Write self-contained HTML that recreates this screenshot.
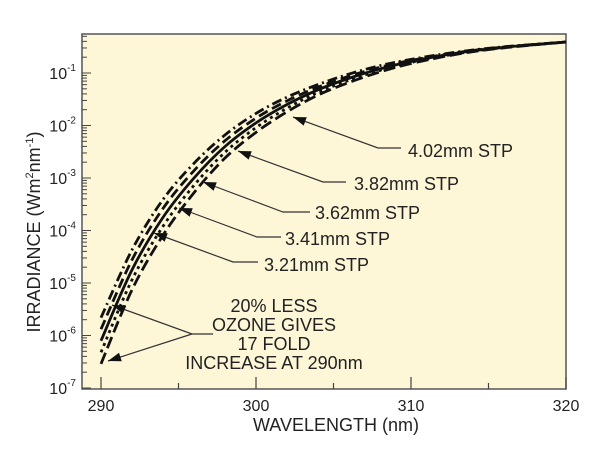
<!DOCTYPE html>
<html><head><meta charset="utf-8"><style>
html,body{margin:0;padding:0;background:#fff;}
svg{display:block;font-family:"Liberation Sans",sans-serif;}
</style></head><body>
<svg id="chart" width="600" height="459" viewBox="0 0 600 459">
<rect x="82" y="34" width="484" height="355" fill="#fdf7d8" stroke="#555" stroke-width="1.5"/>
<g id="ticks"></g>
<g id="curves"></g>
<g id="ann" stroke="#333" stroke-width="1.2" fill="none"></g>
<text x="336" y="431" font-size="18" text-anchor="middle" fill="#222">WAVELENGTH (nm)</text>
<text transform="translate(40,232) rotate(-90)" font-size="18" text-anchor="middle" fill="#222">IRRADIANCE (Wm<tspan font-size="11" dy="-7">2</tspan><tspan dy="7">nm</tspan><tspan font-size="11" dy="-7">-1</tspan><tspan dy="7">)</tspan></text>
<g font-size="18" fill="#222">
<text x="408" y="157">4.02mm STP</text>
<text x="354" y="190">3.82mm STP</text>
<text x="315" y="219">3.62mm STP</text>
<text x="285" y="245">3.41mm STP</text>
<text x="264" y="271">3.21mm STP</text>
<g text-anchor="middle">
<text x="274" y="312">20%  LESS</text>
<text x="274" y="331">OZONE GIVES</text>
<text x="274" y="350">17 FOLD</text>
<text x="274" y="369">INCREASE AT 290nm</text>
</g></g>
</svg>
<script>
const wavelengths=[290,292,294,296,298,300,302,304,306,308,310,313,316,320];
const s321=[-5.66,-4.37,-3.41,-2.72,-2.18,-1.77,-1.46,-1.22,-1.02,-0.86,-0.74,-0.60,-0.50,-0.41];
const s341=[-5.88,-4.56,-3.58,-2.86,-2.29,-1.86,-1.53,-1.27,-1.06,-0.89,-0.76,-0.61,-0.505,-0.41];
const s362=[-6.1,-4.75,-3.75,-3.0,-2.4,-1.95,-1.6,-1.32,-1.1,-0.92,-0.78,-0.62,-0.51,-0.41];
const s382=[-6.32,-4.94,-3.92,-3.14,-2.51,-2.04,-1.67,-1.37,-1.14,-0.95,-0.80,-0.63,-0.515,-0.41];
const s402=[-6.54,-5.13,-4.09,-3.28,-2.62,-2.13,-1.74,-1.42,-1.18,-0.98,-0.82,-0.64,-0.52,-0.41];
const xTicks=[290,300,310,320];
const yExps=[-1,-2,-3,-4,-5,-6,-7];
const NS="http://www.w3.org/2000/svg";
function X(w){return 101+(w-290)*15.5;}
function Y(l){return 73+(-1-l)*52.5;}
function mk(t,a,p){const e=document.createElementNS(NS,t);for(const k in a)e.setAttribute(k,a[k]);p.appendChild(e);return e;}
const tk=document.getElementById('ticks');
for(let w=290;w<=320;w+=5){const big=w%10===0;
 const t=mk('line',{x1:X(w),x2:X(w),y1:389,y2:389-(big?12:6),stroke:'#444','stroke-width':1.2},tk);
 }
xTicks.forEach(w=>{const t=mk('text',{x:X(w),y:411,'font-size':16,'text-anchor':'middle',fill:'#222'},tk);t.textContent=w;
 });
for(let e=-7;e<0;e++){for(let m=1;m<10;m++){const y=Y(e+Math.log10(m));if(y<34)continue;
 const l=mk('line',{x1:82,x2:82+(m===1?9:5),y1:y,y2:y,stroke:'#444','stroke-width':1},tk);
 }}
yExps.forEach(e=>{const t=mk('text',{x:76,y:Y(e)+6,'font-size':16,'text-anchor':'end',fill:'#222'},tk);
 t.textContent='10';const s=mk('tspan',{'font-size':10,dy:-8},t);s.textContent=String(e);
 });
function path(vals){const p=wavelengths.map((w,i)=>[X(w),Y(vals[i])]);let d='M'+p[0][0]+','+p[0][1];
 for(let i=0;i<p.length-1;i++){const p0=p[i-1]||p[i],p1=p[i],p2=p[i+1],p3=p[i+2]||p2;
 d+=' C'+(p1[0]+(p2[0]-p0[0])/6)+','+(p1[1]+(p2[1]-p0[1])/6)+' '+(p2[0]-(p3[0]-p1[0])/6)+','+(p2[1]-(p3[1]-p1[1])/6)+' '+p2[0]+','+p2[1];}return d;}
const cg=document.getElementById('curves');
const series=[[s321,'10,4,2,4','curve-3-21mm'],[s341,'10,5','curve-3-41mm'],[s362,'','curve-3-62mm'],[s382,'3,4','curve-3-82mm'],[s402,'12,5','curve-4-02mm']];
series.forEach(s=>{const e=mk('path',{d:path(s[0]),fill:'none',stroke:'#111','stroke-width':2.8,'stroke-dasharray':s[1]},cg);
 });
const an=document.getElementById('ann');
function arrow(pts,name){const e=mk('polyline',{points:pts.map(p=>p.join(',')).join(' ')},an);
 
 const [a,b]=[pts[pts.length-1],pts[pts.length-2]];const ang=Math.atan2(a[1]-b[1],a[0]-b[0]);
 const L=13,W=4.5;const bx=a[0]-L*Math.cos(ang),by=a[1]-L*Math.sin(ang);
 const h=mk('polygon',{points:`${a[0]},${a[1]} ${bx-W*Math.sin(ang)},${by+W*Math.cos(ang)} ${bx+W*Math.sin(ang)},${by-W*Math.cos(ang)}`,fill:'#111',stroke:'none'},an);
 }
arrow([[401,148],[378,148],[293,117]],'arrow-4-02mm');
arrow([[346,182],[323,182],[238,151]],'arrow-3-82mm');
arrow([[310,212],[283,212],[203,182]],'arrow-3-62mm');
arrow([[281,237],[257,237],[179,208]],'arrow-3-41mm');
arrow([[258,262],[233,262],[154,233]],'arrow-3-21mm');
arrow([[213,334],[192,334],[112,305]],'arrow-ozone-upper');
arrow([[192,334],[108,361]],'arrow-ozone-lower');
</script>
</body></html>
